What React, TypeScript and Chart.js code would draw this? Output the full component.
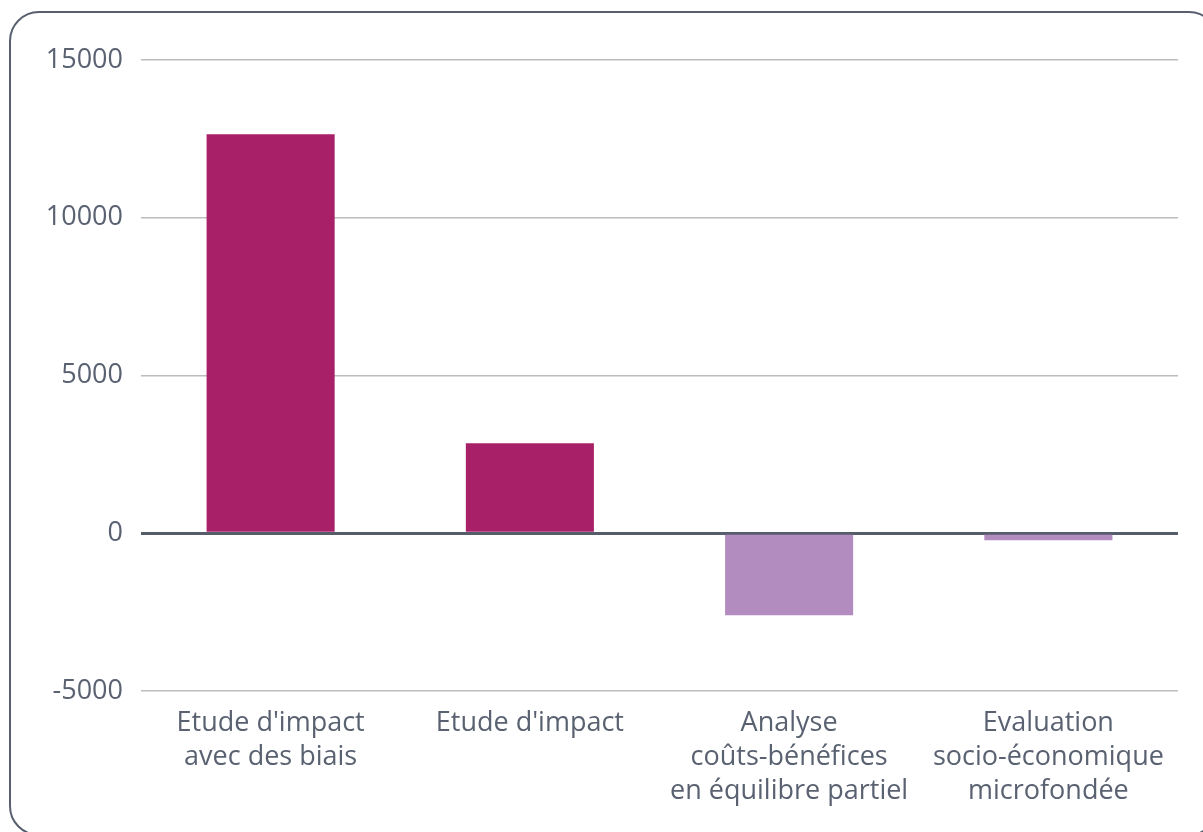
import React, { useEffect, useRef } from "react";
import { Chart, registerables } from "chart.js";

Chart.register(...registerables);

const categories: string[][] = [
  ["Etude d'impact", "avec des biais"],
  ["Etude d'impact"],
  ["Analyse", "coûts-bénéfices", "en équilibre partiel"],
  ["Evaluation", "socio-économique", "microfondée"],
];
const values: number[] = [12650, 2850, -2600, -220];
const barColors: string[] = ["#a82067", "#a82067", "#b28bbf", "#b28bbf"];
const yTicks: number[] = [-5000, 0, 5000, 10000, 15000];

export default function App() {
  const ref = useRef<HTMLCanvasElement | null>(null);
  useEffect(() => {
    if (!ref.current) return;
    const font = { family: "Open Sans", size: 27 };
    const chart = new Chart(ref.current, {
      type: "bar",
      data: {
        labels: categories,
        datasets: [
          {
            data: values,
            backgroundColor: barColors,
            borderWidth: 0,
            categoryPercentage: 1,
            barPercentage: 0.494,
          },
        ],
      },
      options: {
        animation: false,
        responsive: false,
        maintainAspectRatio: false,
        layout: { padding: { top: 60, right: 25, bottom: 0, left: 0 } },
        plugins: { legend: { display: false }, tooltip: { enabled: false } },
        scales: {
          x: {
            grid: { display: false, drawTicks: false },
            border: { display: false },
            ticks: {
              color: "#5a6272",
              font: { ...font, lineHeight: 1.26 },
              padding: 15,
              maxRotation: 0,
              autoSkip: false,
            },
            afterFit: (s: any) => {
              s.height = 141;
            },
          },
          y: {
            min: -5000,
            max: 15000,
            afterBuildTicks: (s: any) => {
              s.ticks = yTicks.map((v) => ({ value: v }));
            },
            grid: {
              drawTicks: false,
              color: (c: any) => (c.tick && c.tick.value === 0 ? "#555d6b" : "#bcbcbc"),
              lineWidth: (c: any) => (c.tick && c.tick.value === 0 ? 3 : 1.5),
            },
            border: { display: false },
            ticks: {
              color: "#5a6272",
              font,
              padding: 18,
              callback: (v: any) => String(v),
            },
            afterFit: (s: any) => {
              s.width = 141;
            },
          },
        },
      },
    });
    return () => chart.destroy();
  }, []);
  return (
    <div style={{ position: "fixed", left: 0, top: 0, width: 1203, height: 832, background: "#fff", overflow: "hidden" }}>
      <canvas ref={ref} width={1203} height={832} style={{ position: "absolute", left: 0, top: 0 }} />
      <div
        style={{
          position: "absolute",
          left: 9,
          top: 11,
          width: 1210,
          height: 825,
          border: "2.5px solid #586070",
          borderRadius: 30,
          boxSizing: "border-box",
          pointerEvents: "none",
        }}
      />
    </div>
  );
}
